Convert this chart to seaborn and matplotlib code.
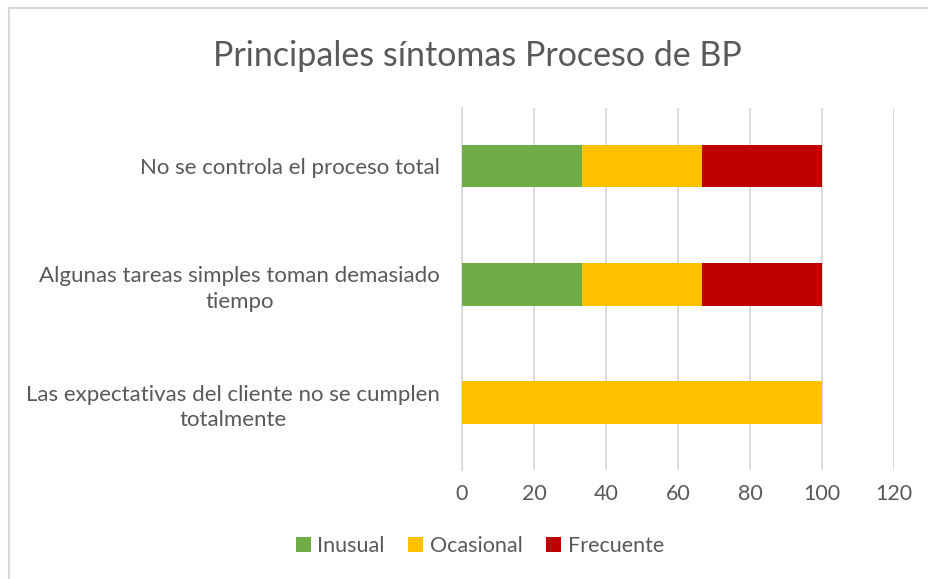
import matplotlib
matplotlib.use("Agg")
import matplotlib.pyplot as plt
from matplotlib.patches import Patch, Rectangle
import seaborn as sns
import pandas as pd
import numpy as np

# Survey data: share of answers per symptom (percent)
categories = [
    "No se controla el proceso total",
    "Algunas tareas simples toman demasiado\ntiempo",
    "Las expectativas del cliente no se cumplen\ntotalmente",
]
series = ["Inusual", "Ocasional", "Frecuente"]
inusual = [33.33, 33.33, 0.0]
ocasional = [33.33, 33.33, 100.0]
frecuente = [33.34, 33.34, 0.0]
colors = ["#70AD47", "#FFC000", "#C00000"]
xticks = [0, 20, 40, 60, 80, 100, 120]

sns.set_theme(style="white")
plt.rcParams["font.family"] = ["Lato", "DejaVu Sans"]
text_color = "#595959"
grid_color = "#D9D9D9"

df = pd.DataFrame({"categoria": categories, "Inusual": inusual,
                   "Ocasional": ocasional, "Frecuente": frecuente})
# cumulative right edges for the stacked segments
cum = df[series].cumsum(axis=1)

fig = plt.figure(figsize=(9.29, 5.79), dpi=100)
ax = fig.add_axes([462 / 929, 1 - 470 / 579, (894 - 462) / 929, (470 - 108) / 579])

# draw the longest stack first so shorter segments sit on top of it
for name, color in reversed(list(zip(series, colors))):
    sns.barplot(data=cum.assign(categoria=df["categoria"]), x=name, y="categoria",
                orient="h", color=color, width=0.36, saturation=1,
                edgecolor="none", linewidth=0, ax=ax, zorder=3)

ax.set_xlim(0, 120)
ax.set_ylim(2.57, -0.49)
ax.set_xticks(xticks)
ax.set_xticklabels([str(t) for t in xticks], fontsize=15.5, color=text_color)
ax.tick_params(axis="x", length=0, pad=10)
ax.tick_params(axis="y", length=0, pad=16)
for lbl in ax.get_yticklabels():
    lbl.set_fontsize(16)
    lbl.set_color(text_color)
    lbl.set_multialignment("center")
    lbl.set_linespacing(1.35)
ax.set_xlabel("")
ax.set_ylabel("")
ax.grid(axis="x", color=grid_color, linewidth=1.3, zorder=0)
ax.set_axisbelow(True)
for side in ["top", "right", "bottom"]:
    ax.spines[side].set_visible(False)
ax.spines["left"].set_color(grid_color)
ax.spines["left"].set_linewidth(1.3)

fig.text(477 / 929, 1 - 56 / 579, "Principales síntomas Proceso de BP",
         ha="center", va="center", fontsize=24.5, color=text_color)

handles = [Patch(facecolor=c, edgecolor="none") for c in colors]
fig.legend(handles, series, loc="center", bbox_to_anchor=(480 / 929, 1 - 546 / 579),
           ncol=3, frameon=False, fontsize=15.5, labelcolor=text_color,
           handlelength=0.7, handleheight=0.7, handletextpad=0.3, columnspacing=1.1)

# chart frame
fig.patches.append(Rectangle((9.5 / 929, -0.05), 1.2, 1 - 8 / 579 + 0.05,
                             transform=fig.transFigure, fill=False,
                             edgecolor=grid_color, linewidth=1.5))

fig.savefig("out.png", dpi=100, facecolor="white")
